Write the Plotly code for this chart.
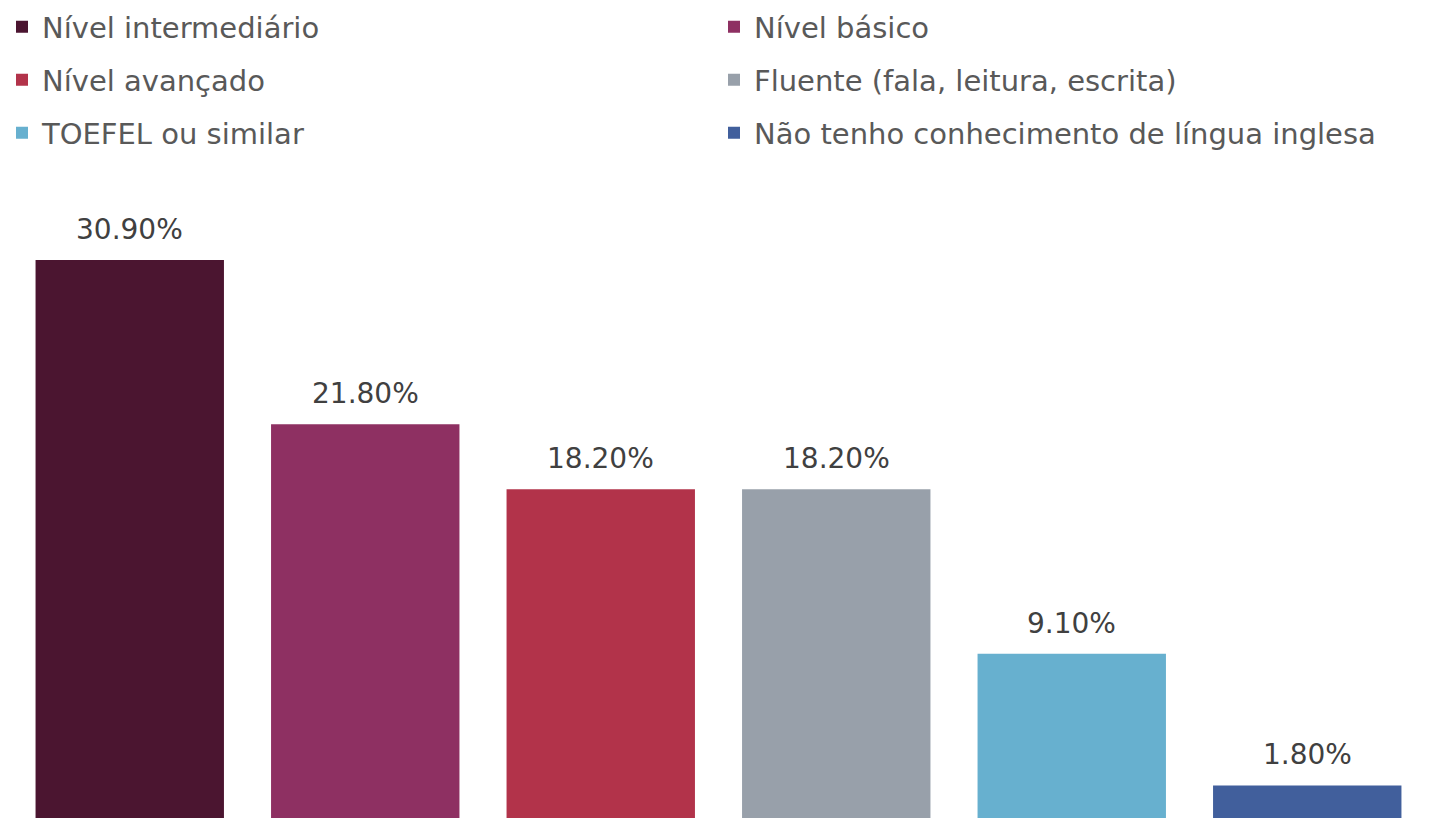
import plotly.graph_objects as go

categories = ["Nível intermediário", "Nível básico", "Nível avançado",
              "Fluente (fala, leitura, escrita)", "TOEFEL ou similar",
              "Não tenho conhecimento de língua inglesa"]
values = [30.9, 21.8, 18.2, 18.2, 9.1, 1.8]
colors = ["#4B1530", "#8E3062", "#B2334A", "#98A0AA", "#67B0CF", "#415F9C"]

FONT = "DejaVu Sans"
# page body has an 8px margin; size the figure to fit the viewport
W, H = 1429, 810
legend_ids = ["legend", "legend2", "legend3", "legend4", "legend5", "legend6"]
legend_x_px = [0, 712, 0, 712, 0, 712]
legend_y_px = [19, 19, 72, 72, 125, 125]

fig = go.Figure()
for cat, val, col, lg in zip(categories, values, colors, legend_ids):
    fig.add_trace(go.Bar(x=[cat], y=[val], name=cat, marker_color=col,
                         marker_line_width=0, hoverinfo="x+y", legend=lg))

for cat, val in zip(categories, values):
    fig.add_annotation(x=cat, y=val, text=f"{val:.2f}%", showarrow=False,
                       yanchor="bottom", yshift=12,
                       font=dict(family=FONT, size=28, color="#404040"))

def legend_cfg(xp, yp):
    return dict(orientation="h", x=xp / W, y=1 - yp / H, xref="container", yref="container",
                xanchor="left", yanchor="middle", indentation=-6,
                font=dict(family=FONT, size=29, color="#595959"),
                itemclick=False, itemdoubleclick=False,
                bgcolor="rgba(0,0,0,0)")

legends = {lg: legend_cfg(xp, yp) for lg, xp, yp in zip(legend_ids, legend_x_px, legend_y_px)}

fig.update_layout(
    width=W, height=H,
    margin=dict(l=4, r=12, t=192, b=0, autoexpand=False),
    paper_bgcolor="white", plot_bgcolor="white",
    barmode="overlay", bargap=0.2,
    showlegend=True,
    xaxis=dict(showticklabels=False, showgrid=False, zeroline=False, showline=False,
               categoryorder="array", categoryarray=categories, range=[-0.5, 5.5]),
    yaxis=dict(range=[0, 34.22], showticklabels=False, showgrid=False,
               zeroline=False, showline=False),
    **legends,
)

fig.write_html("out.html")
